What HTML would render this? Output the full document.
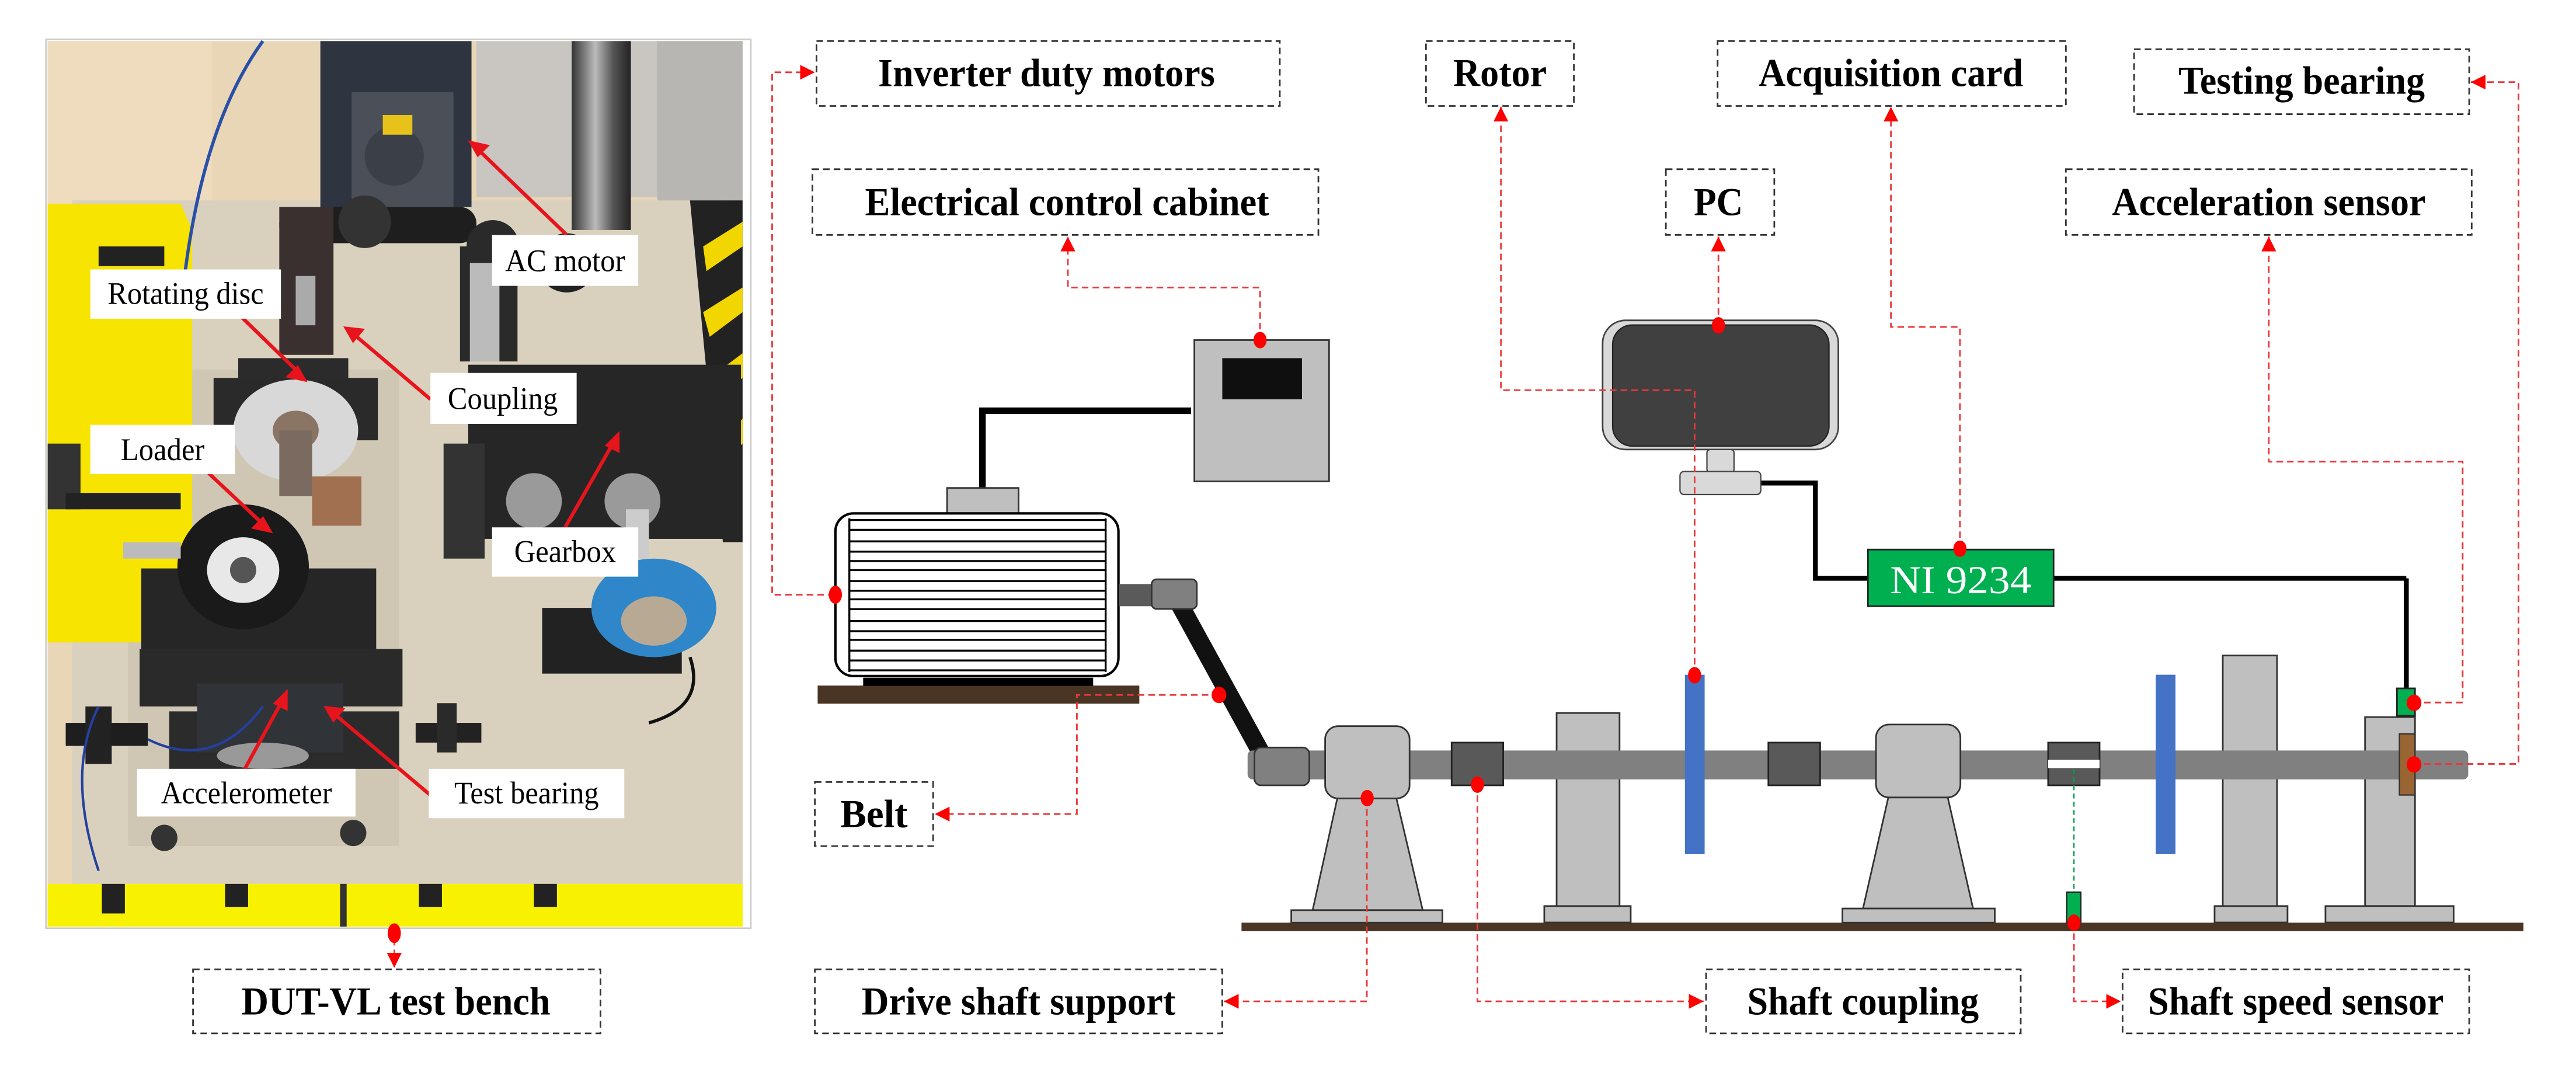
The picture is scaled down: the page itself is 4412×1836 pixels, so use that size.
<!DOCTYPE html>
<html><head><meta charset="utf-8"><style>
html,body{margin:0;padding:0;background:#fff;}
svg{display:block;}
.lb{font-family:"Liberation Serif",serif;font-weight:bold;font-size:24px;fill:#000;}
.pl{font-family:"Liberation Serif",serif;font-size:19px;fill:#000;}
.box{fill:#fff;stroke:#333;stroke-width:1;stroke-dasharray:4 2.5;}
.rc{fill:none;stroke:#e8383a;stroke-width:1;stroke-dasharray:4 2.5;}
</style></head><body>
<svg width="4412" height="1836" viewBox="0 0 1568 652.5" xmlns="http://www.w3.org/2000/svg">
<defs>
<marker id="ar" viewBox="0 0 10 10" refX="10" refY="5" markerWidth="9" markerHeight="9" markerUnits="userSpaceOnUse" orient="auto"><path d="M0,0L10,5L0,10z" fill="#ff0000"/></marker>
<marker id="ra" viewBox="0 0 10 10" refX="10" refY="5" markerWidth="9" markerHeight="9" markerUnits="userSpaceOnUse" orient="auto"><path d="M0,0L10,5L0,10z" fill="#ff0000"/></marker>
<linearGradient id="pole" x1="0" x2="1"><stop offset="0" stop-color="#333"/><stop offset=".4" stop-color="#bbb"/><stop offset=".7" stop-color="#555"/><stop offset="1" stop-color="#222"/></linearGradient>
</defs>

<!-- ===== PHOTO ===== -->
<rect x="28" y="24" width="429" height="541" fill="#fff" stroke="#ccc" stroke-width="1"/>
<g>
<rect x="29" y="25" width="423" height="539" fill="#e9d6b6"/>
<rect x="290" y="25" width="162" height="95" fill="#c9c6c2"/>
<rect x="400" y="25" width="52" height="120" fill="#b8b6b3"/>
<rect x="29" y="25" width="100" height="100" fill="#efdcbe"/>
<!-- board -->
<path d="M44,122 L440,122 L452,140 L452,538 L44,538 Z" fill="#d9d1bd"/>
<rect x="78" y="225" width="165" height="290" fill="#cfc7b4"/>
<!-- yellow/black stripes right -->
<path d="M420,122 L452,122 L452,330 L440,330 Z" fill="#222"/>
<path d="M428,150 L452,135 L452,150 L430,165 Z M428,190 L452,175 L452,190 L432,205 Z M432,230 L452,215 L452,230 L434,245 Z M434,270 L452,255 L452,270 L436,285 Z" fill="#f2d600"/>
<!-- yellow cases left -->
<path d="M29,124 L110,124 L117,140 L117,391 L29,391 Z" fill="#f7e400"/>
<rect x="60" y="150" width="40" height="12" fill="#222"/>
<rect x="29" y="270" width="20" height="40" fill="#333"/>
<rect x="40" y="300" width="70" height="10" fill="#222"/>
<rect x="29" y="538" width="423" height="26" fill="#f8f200"/>
<rect x="62" y="538" width="14" height="18" fill="#222"/>
<rect x="137" y="538" width="14" height="14" fill="#222"/>
<rect x="207" y="538" width="4" height="26" fill="#333"/>
<rect x="255" y="538" width="14" height="14" fill="#222"/>
<rect x="325" y="538" width="14" height="14" fill="#222"/>
<!-- motor frame -->
<rect x="195" y="25" width="92" height="101" fill="#2e3440"/>
<rect x="214" y="56" width="62" height="70" fill="#4a4f58"/>
<circle cx="240" cy="95" r="18" fill="#3b4048"/>
<rect x="233" y="70" width="18" height="12" fill="#e6c21a"/>
<!-- pole -->
<rect x="348" y="25" width="36" height="115" fill="url(#pole)"/>
<!-- belt/pulley area -->
<rect x="170" y="126" width="120" height="22" rx="10" fill="#1e1e1e"/>
<circle cx="222" cy="135" r="16" fill="#333"/>
<circle cx="300" cy="150" r="16" fill="#2a2a2a"/>
<rect x="170" y="126" width="33" height="90" fill="#3a3030"/>
<rect x="180" y="168" width="12" height="30" fill="#aaa"/>
<rect x="280" y="150" width="35" height="70" fill="#2a2a2a"/>
<rect x="286" y="160" width="18" height="60" fill="#bbb"/>
<circle cx="345" cy="160" r="18" fill="#222"/>
<!-- top block and disc -->
<rect x="145" y="218" width="67" height="27" fill="#2b2b2b"/>
<rect x="130" y="230" width="100" height="38" fill="#2a2a2a"/>
<ellipse cx="180" cy="262" rx="38" ry="31" fill="#d8d8d8"/>
<ellipse cx="180" cy="262" rx="14" ry="12" fill="#8a7565"/>
<rect x="170" y="262" width="20" height="40" fill="#7a6a60"/>
<rect x="190" y="290" width="30" height="30" fill="#a07050"/>
<!-- gearbox -->
<rect x="285" y="222" width="166" height="106" fill="#262626"/>
<rect x="270" y="270" width="25" height="70" fill="#333"/>
<circle cx="325" cy="305" r="17" fill="#9a9a9a"/>
<circle cx="385" cy="305" r="17" fill="#9a9a9a"/>
<rect x="381" y="310" width="14" height="30" fill="#ccc"/>
<!-- blue sensor -->
<rect x="330" y="370" width="85" height="40" fill="#222"/>
<ellipse cx="398" cy="370" rx="38" ry="30" fill="#2f86c8"/>
<ellipse cx="398" cy="378" rx="20" ry="15" fill="#b8a995"/>
<!-- loader -->
<rect x="86" y="346" width="143" height="66" fill="#262626"/>
<rect x="85" y="395" width="160" height="35" fill="#2a2a2a"/>
<ellipse cx="148" cy="345" rx="40" ry="38" fill="#1a1a1a"/>
<ellipse cx="148" cy="347" rx="22" ry="20" fill="#e8e8e8"/>
<circle cx="148" cy="347" r="8" fill="#555"/>
<rect x="75" y="330" width="35" height="10" fill="#bbb"/>
<!-- test bearing area -->
<rect x="103" y="433" width="140" height="35" fill="#2b2b2b"/>
<rect x="120" y="416" width="89" height="42" fill="#303338"/>
<ellipse cx="160" cy="460" rx="28" ry="8" fill="#999"/>
<rect x="40" y="440" width="50" height="14" fill="#1e1e1e"/>
<rect x="52" y="430" width="16" height="35" fill="#222"/>
<rect x="253" y="440" width="40" height="12" fill="#222"/>
<rect x="266" y="428" width="12" height="30" fill="#2a2a2a"/>
<circle cx="100" cy="510" r="8" fill="#333"/>
<circle cx="215" cy="507" r="8" fill="#333"/>
<path d="M60,430 Q40,470 60,530" fill="none" stroke="#2440a0" stroke-width="1.5"/>
<path d="M90,450 Q130,470 160,430" fill="none" stroke="#2440a0" stroke-width="1.5"/>
<path d="M160,25 Q120,80 110,190" fill="none" stroke="#2a4fa8" stroke-width="2"/>
<path d="M420,400 Q430,430 395,440" fill="none" stroke="#111" stroke-width="2"/>
</g>
<!-- photo labels & arrows -->
<g stroke="#e8141c" stroke-width="2.2" fill="#e8141c">
<line x1="345" y1="143" x2="291" y2="91"/><path d="M287,87 l9,2 l-5,5z"/>
<line x1="146" y1="192" x2="181" y2="226"/><path d="M185,231 l-9,-2 l5,-5z"/>
<line x1="262" y1="243" x2="216" y2="204"/><path d="M211,200 l9,1 l-5,6z"/>
<line x1="127" y1="288" x2="159" y2="318"/><path d="M164,323 l-9,-2 l5,-5z"/>
<line x1="344" y1="321" x2="373" y2="270"/><path d="M376,265 l0,9 l-6,-3z"/>
<line x1="149" y1="468" x2="171" y2="428"/><path d="M174,422 l0,9 l-6,-3z"/>
<line x1="262" y1="484" x2="204" y2="435"/><path d="M199,431 l9,1 l-5,6z"/>
</g>
<rect x="299.5" y="143" width="89" height="31" fill="#fff"/><text class="pl" x="344" y="165" text-anchor="middle" textLength="73" lengthAdjust="spacingAndGlyphs">AC motor</text>
<rect x="55" y="164" width="116" height="30" fill="#fff"/><text class="pl" x="113" y="185" text-anchor="middle" textLength="95" lengthAdjust="spacingAndGlyphs">Rotating disc</text>
<rect x="262" y="227" width="89" height="31" fill="#fff"/><text class="pl" x="306" y="249" text-anchor="middle" textLength="67" lengthAdjust="spacingAndGlyphs">Coupling</text>
<rect x="55" y="258.6" width="88" height="30" fill="#fff"/><text class="pl" x="99" y="280" text-anchor="middle" textLength="51" lengthAdjust="spacingAndGlyphs">Loader</text>
<rect x="299.5" y="321" width="89" height="30" fill="#fff"/><text class="pl" x="344" y="342" text-anchor="middle" textLength="62" lengthAdjust="spacingAndGlyphs">Gearbox</text>
<rect x="83.4" y="468" width="133" height="29" fill="#fff"/><text class="pl" x="150" y="489" text-anchor="middle" textLength="104" lengthAdjust="spacingAndGlyphs">Accelerometer</text>
<rect x="261" y="468" width="119" height="30" fill="#fff"/><text class="pl" x="320.5" y="489" text-anchor="middle" textLength="88" lengthAdjust="spacingAndGlyphs">Test bearing</text>

<!-- ===== LABEL BOXES ===== -->
<rect class="box" x="497" y="25" width="282" height="39.5"/><text class="lb" x="637" y="52.5" text-anchor="middle" textLength="205" lengthAdjust="spacingAndGlyphs">Inverter duty motors</text>
<rect class="box" x="868" y="25" width="90" height="39.5"/><text class="lb" x="913" y="52.5" text-anchor="middle" textLength="57" lengthAdjust="spacingAndGlyphs">Rotor</text>
<rect class="box" x="1045.5" y="25" width="212" height="39.5"/><text class="lb" x="1151" y="52.5" text-anchor="middle" textLength="161" lengthAdjust="spacingAndGlyphs">Acquisition card</text>
<rect class="box" x="1299" y="30" width="204" height="39.5"/><text class="lb" x="1401" y="57" text-anchor="middle" textLength="150" lengthAdjust="spacingAndGlyphs">Testing bearing</text>
<rect class="box" x="494.5" y="103" width="308" height="40"/><text class="lb" x="649.5" y="131" text-anchor="middle" textLength="246" lengthAdjust="spacingAndGlyphs">Electrical control cabinet</text>
<rect class="box" x="1014" y="103" width="66" height="40"/><text class="lb" x="1046" y="131" text-anchor="middle" textLength="30" lengthAdjust="spacingAndGlyphs">PC</text>
<rect class="box" x="1257.5" y="103" width="247" height="40"/><text class="lb" x="1381" y="131" text-anchor="middle" textLength="191" lengthAdjust="spacingAndGlyphs">Acceleration sensor</text>
<rect class="box" x="496" y="476" width="72" height="39"/><text class="lb" x="532" y="503.5" text-anchor="middle" textLength="41" lengthAdjust="spacingAndGlyphs">Belt</text>
<rect class="box" x="117.5" y="590" width="248" height="39"/><text class="lb" x="241" y="617.5" text-anchor="middle" textLength="188" lengthAdjust="spacingAndGlyphs">DUT-VL test bench</text>
<rect class="box" x="496" y="590" width="248" height="39"/><text class="lb" x="620" y="617.5" text-anchor="middle" textLength="191" lengthAdjust="spacingAndGlyphs">Drive shaft support</text>
<rect class="box" x="1038.5" y="590" width="191.5" height="39"/><text class="lb" x="1134" y="617.5" text-anchor="middle" textLength="141" lengthAdjust="spacingAndGlyphs">Shaft coupling</text>
<rect class="box" x="1292" y="590" width="211" height="39"/><text class="lb" x="1397.5" y="617.5" text-anchor="middle" textLength="180" lengthAdjust="spacingAndGlyphs">Shaft speed sensor</text>

<!-- ===== SCHEMATIC ===== -->
<!-- cabinet -->
<path d="M725,250 H598 V297" fill="none" stroke="#000" stroke-width="4"/>
<rect x="727" y="207" width="82" height="86" fill="#bfbfbf" stroke="#333" stroke-width="1"/>
<rect x="744" y="218" width="48.5" height="25" fill="#0f0f0f"/>
<!-- motor -->
<rect x="576.5" y="297" width="43.5" height="16" fill="#bfbfbf" stroke="#333" stroke-width="1"/>
<rect x="497.7" y="417.3" width="195.8" height="11" fill="#4a3525"/>
<rect x="525.4" y="412.5" width="140" height="5" fill="#000"/>
<rect x="508.5" y="312.5" width="172.3" height="99" rx="11" fill="#fff" stroke="#000" stroke-width="1.5"/>
<g stroke="#000" stroke-width="1.2">
<line x1="517" y1="315.5" x2="517" y2="409"/><line x1="673" y1="315.5" x2="673" y2="409"/>
<line x1="517" y1="316.5" x2="673" y2="316.5"/><line x1="517" y1="322.5" x2="673" y2="322.5"/><line x1="517" y1="329.5" x2="673" y2="329.5"/><line x1="517" y1="335.8" x2="673" y2="335.8"/><line x1="517" y1="341.5" x2="673" y2="341.5"/><line x1="517" y1="347" x2="673" y2="347"/><line x1="517" y1="353.7" x2="673" y2="353.7"/><line x1="517" y1="359.6" x2="673" y2="359.6"/><line x1="517" y1="364.8" x2="673" y2="364.8"/><line x1="517" y1="370.8" x2="673" y2="370.8"/><line x1="517" y1="378" x2="673" y2="378"/><line x1="517" y1="384.2" x2="673" y2="384.2"/><line x1="517" y1="389.5" x2="673" y2="389.5"/><line x1="517" y1="396" x2="673" y2="396"/><line x1="517" y1="402" x2="673" y2="402"/><line x1="517" y1="408" x2="673" y2="408"/>
</g>
<rect x="681" y="355.5" width="21" height="13.5" fill="#5a5a5a"/>
<!-- belt -->
<line x1="717" y1="366" x2="773" y2="468" stroke="#111" stroke-width="11"/>
<rect x="701" y="352.6" width="27.5" height="18" rx="3" fill="#808080" stroke="#333" stroke-width="1"/>
<!-- ground -->
<rect x="755.7" y="561.6" width="780.3" height="5.2" fill="#4a3525"/>
<!-- pillars behind shaft -->
<rect x="947.5" y="434" width="38.3" height="118" fill="#bfbfbf" stroke="#333" stroke-width="1"/>
<rect x="940" y="551.5" width="52.6" height="10" fill="#bfbfbf" stroke="#333" stroke-width="1"/>
<rect x="1353" y="399" width="33" height="153" fill="#bfbfbf" stroke="#333" stroke-width="1"/>
<rect x="1348" y="551.5" width="44.4" height="10" fill="#bfbfbf" stroke="#333" stroke-width="1"/>
<rect x="1439.6" y="436.5" width="30.4" height="115" fill="#bfbfbf" stroke="#333" stroke-width="1"/>
<rect x="1415.5" y="551.5" width="78" height="10" fill="#bfbfbf" stroke="#333" stroke-width="1"/>
<!-- pedestals -->
<path d="M814,486 L850,486 L866,554 L799,554 Z" fill="#bfbfbf" stroke="#333" stroke-width="1"/>
<rect x="786" y="554" width="92" height="7.6" fill="#bfbfbf" stroke="#333" stroke-width="1"/>
<path d="M1149.5,485 L1185.5,485 L1201,553 L1134,553 Z" fill="#bfbfbf" stroke="#333" stroke-width="1"/>
<rect x="1121.5" y="553" width="92.7" height="8.6" fill="#bfbfbf" stroke="#333" stroke-width="1"/>
<!-- shaft -->
<rect x="759.4" y="456.8" width="743" height="17.6" rx="3" fill="#808080"/>
<!-- pulley bottom -->
<rect x="763.6" y="455" width="33.4" height="23" rx="4" fill="#808080" stroke="#333" stroke-width="1"/>
<!-- housings -->
<rect x="806.6" y="442" width="51.4" height="44" rx="8" fill="#bfbfbf" stroke="#333" stroke-width="1"/>
<rect x="1141.9" y="441" width="51.4" height="44.4" rx="8" fill="#bfbfbf" stroke="#333" stroke-width="1"/>
<!-- couplings -->
<rect x="883.6" y="452" width="31.4" height="26" fill="#595959" stroke="#222" stroke-width="1"/>
<rect x="1076.4" y="452" width="31.5" height="26" fill="#595959" stroke="#222" stroke-width="1"/>
<rect x="1246.7" y="452" width="31.3" height="26" fill="#595959" stroke="#222" stroke-width="1"/>
<rect x="1246.7" y="462.5" width="31.3" height="5" fill="#fff"/>
<!-- rotors -->
<rect x="1025.6" y="410.7" width="12" height="109.2" fill="#4472c4"/>
<rect x="1312.2" y="410.7" width="12" height="109.2" fill="#4472c4"/>
<!-- bearing & accel -->
<rect x="1460.5" y="446.7" width="9.5" height="37.2" fill="#996633" stroke="#333" stroke-width="0.8"/>
<line x1="1464.7" y1="352" x2="1464.7" y2="419" stroke="#000" stroke-width="3"/>
<rect x="1459" y="419" width="11" height="16.7" fill="#00b050" stroke="#222" stroke-width="1"/>
<!-- speed sensor -->
<line x1="1262.4" y1="468" x2="1262.4" y2="543" stroke="#00a050" stroke-width="0.8" stroke-dasharray="3 2"/>
<rect x="1258" y="543" width="8.6" height="18.6" fill="#00b050" stroke="#222" stroke-width="0.8"/>
<!-- monitor -->
<path d="M1072,294 H1105 V352 H1137 M1250,352 H1464.7 V352" fill="none" stroke="#000" stroke-width="3"/>
<rect x="975.5" y="195" width="143.5" height="78.6" rx="14" fill="#d9d9d9" stroke="#444" stroke-width="1"/>
<rect x="981.6" y="197.8" width="131.7" height="73.7" rx="12" fill="#404040" stroke="#222" stroke-width="0.8"/>
<rect x="1039" y="273.6" width="16.5" height="14" rx="2" fill="#d9d9d9" stroke="#444" stroke-width="0.8"/>
<rect x="1022.6" y="287" width="49.2" height="14" rx="2.5" fill="#d9d9d9" stroke="#444" stroke-width="0.8"/>
<rect x="1137" y="334.5" width="113" height="34.5" fill="#00b050" stroke="#222" stroke-width="1"/>
<text x="1193.5" y="361" text-anchor="middle" font-family="Liberation Serif, serif" font-size="24" fill="#fff" textLength="86" lengthAdjust="spacingAndGlyphs">NI 9234</text>

<!-- ===== RED CONNECTORS ===== -->
<g class="rc">
<path d="M508,362 H470 V44 H496" marker-end="url(#ar)"/>
<path d="M767,207 V175 H650 V144" marker-end="url(#ar)"/>
<path d="M1031.5,411 V237.5 H913.6 V65" marker-end="url(#ar)"/>
<path d="M1046,198 V144" marker-end="url(#ar)"/>
<path d="M1193,334 V199 H1151 V65" marker-end="url(#ar)"/>
<path d="M1469,465 H1533 V50 H1504" marker-end="url(#ar)"/>
<path d="M1469,427.6 H1499 V281 H1381 V144" marker-end="url(#ar)"/>
<path d="M742,423 H655.5 V495.5 H569" marker-end="url(#ar)"/>
<path d="M240,565 V589" marker-end="url(#ar)"/>
<path d="M832,486 V609.5 H745" marker-end="url(#ar)"/>
<path d="M899.3,477.6 V609.5 H1037" marker-end="url(#ar)"/>
<path d="M1262.4,561.6 V609.5 H1291" marker-end="url(#ar)"/>
</g>
<g fill="#ff0000">
<ellipse cx="508.5" cy="362" rx="4" ry="5.5"/>
<ellipse cx="767" cy="207" rx="4" ry="5"/>
<ellipse cx="1031.5" cy="411" rx="4" ry="5"/>
<ellipse cx="1046" cy="198" rx="4" ry="5"/>
<ellipse cx="1193" cy="334" rx="4" ry="5"/>
<ellipse cx="1469.4" cy="465.3" rx="4.5" ry="5"/>
<ellipse cx="1469.4" cy="427.8" rx="4.5" ry="5"/>
<ellipse cx="742" cy="423" rx="4.5" ry="5"/>
<ellipse cx="240" cy="568" rx="4" ry="6"/>
<ellipse cx="832.2" cy="485.8" rx="4" ry="5"/>
<ellipse cx="899.3" cy="477.6" rx="4" ry="5"/>
<ellipse cx="1262.4" cy="561.6" rx="4" ry="5"/>
</g>
</svg>
</body></html>
